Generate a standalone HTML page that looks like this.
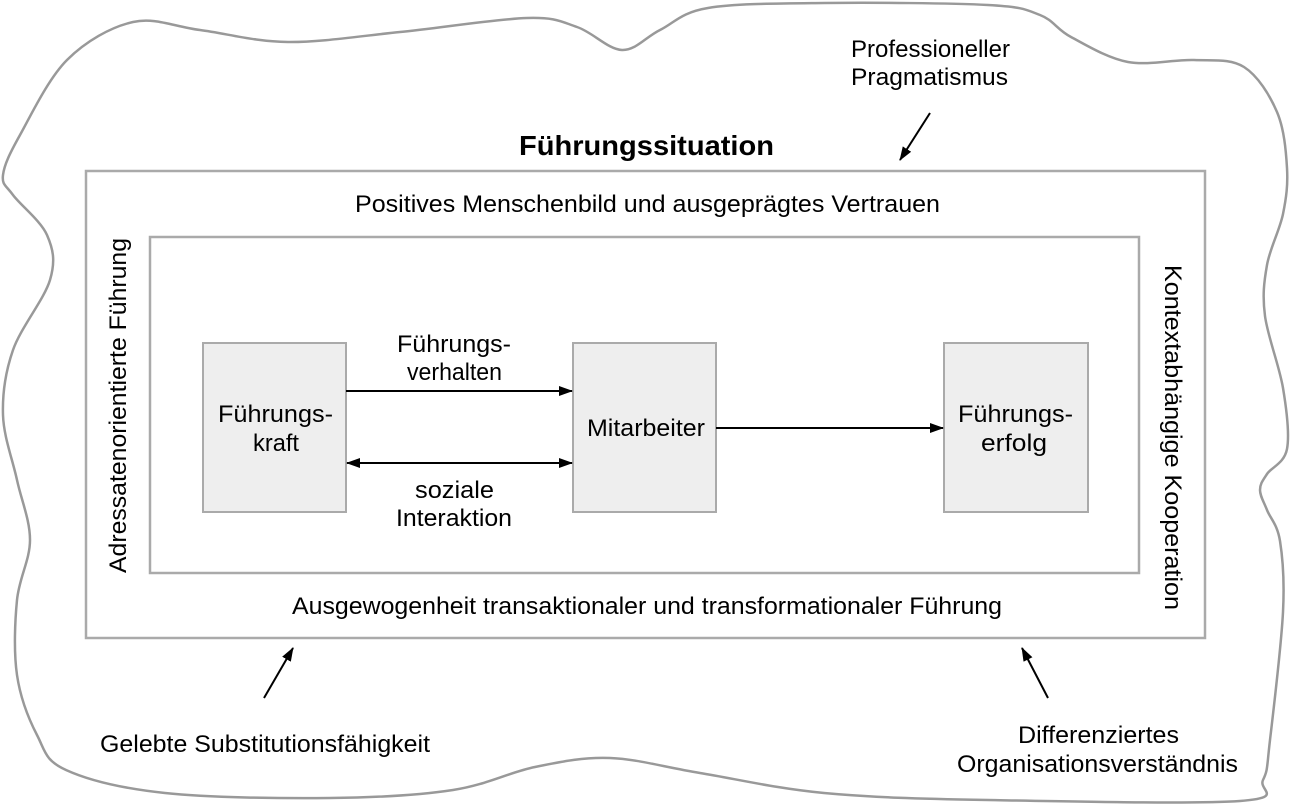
<!DOCTYPE html>
<html><head><meta charset="utf-8"><style>
html,body{margin:0;padding:0;background:#fff;}
svg{display:block;font-family:"Liberation Sans",Arial,sans-serif;}
</style></head><body>
<svg width="1292" height="808" viewBox="0 0 1292 808" xmlns="http://www.w3.org/2000/svg">
<defs>
<marker id="b" viewBox="0 0 14 10" markerWidth="14" markerHeight="10" refX="13" refY="5" orient="auto-start-reverse" markerUnits="userSpaceOnUse"><path d="M0,0 L14,5 L0,10 Z" fill="#000"/></marker>
</defs>
<path id="cloud" d="M133,22 L200,30 L288,42 L400,32 L527,18 L577,27 L622,50 L660,30 L708,8 L824,3 L988,5 L1040,15 L1071,37 L1128,62 L1194,60 L1244,67 L1277,112 L1287,168 L1283,214 L1267,265 L1265,316 L1283,388 L1287,449 L1267,474 L1260,490 L1267,510 L1280,541 L1283,612 L1270,740 L1263,780 L1240,801 L988,800 L824,793 L700,773 L610,758 L535,767 L453,790 L330,798 L165,793 L66,770 L37,735 L17,675 L17,600 L30,540 L17,480 L3,415 L13,350 L50,280 L47,235 L13,195 L3,175 L20,135 L67,60 Z" fill="none" stroke="#999" stroke-width="2.5" stroke-linejoin="round"/>
<rect x="86" y="171" width="1119" height="467" fill="none" stroke="#aaa" stroke-width="2.5"/>
<rect x="150" y="237" width="989" height="336" fill="none" stroke="#aaa" stroke-width="2.5"/>
<rect x="203" y="343" width="143" height="169" fill="#eee" stroke="#aaa" stroke-width="2"/>
<rect x="573" y="343" width="143" height="169" fill="#eee" stroke="#aaa" stroke-width="2"/>
<rect x="944" y="343" width="144" height="169" fill="#eee" stroke="#aaa" stroke-width="2"/>
<g stroke="#000" stroke-width="2" fill="none">
<line x1="346" y1="391" x2="572" y2="391" marker-end="url(#b)"/>
<line x1="347" y1="463" x2="572" y2="463" marker-start="url(#b)" marker-end="url(#b)"/>
<line x1="716" y1="428" x2="943" y2="428" marker-end="url(#b)"/>
<line x1="930" y1="113" x2="900" y2="160" marker-end="url(#b)"/>
<line x1="264" y1="698" x2="293" y2="648" marker-end="url(#b)"/>
<line x1="1048" y1="698" x2="1022" y2="648" marker-end="url(#b)"/>
</g>
<g font-size="24" fill="#000">
<text x="519" y="155" font-size="28" font-weight="bold" textLength="255" lengthAdjust="spacingAndGlyphs">Führungssituation</text>
<text x="851" y="57" textLength="159" lengthAdjust="spacingAndGlyphs">Professioneller</text>
<text x="851" y="85" textLength="157" lengthAdjust="spacingAndGlyphs">Pragmatismus</text>
<text x="355" y="212" textLength="585" lengthAdjust="spacingAndGlyphs">Positives Menschenbild und ausgeprägtes Vertrauen</text>
<text x="292" y="614" textLength="710" lengthAdjust="spacingAndGlyphs">Ausgewogenheit transaktionaler und transformationaler Führung</text>
<text x="100" y="752" textLength="330" lengthAdjust="spacingAndGlyphs">Gelebte Substitutionsfähigkeit</text>
<text x="1018" y="743" textLength="161" lengthAdjust="spacingAndGlyphs">Differenziertes</text>
<text x="957" y="772" textLength="281" lengthAdjust="spacingAndGlyphs">Organisationsverständnis</text>
<text x="397" y="352" textLength="114" lengthAdjust="spacingAndGlyphs">Führungs-</text>
<text x="407" y="380" textLength="95" lengthAdjust="spacingAndGlyphs">verhalten</text>
<text x="415" y="498" textLength="79" lengthAdjust="spacingAndGlyphs">soziale</text>
<text x="396" y="526" textLength="116" lengthAdjust="spacingAndGlyphs">Interaktion</text>
<text x="218" y="422" textLength="115" lengthAdjust="spacingAndGlyphs">Führungs-</text>
<text x="253" y="451" textLength="46" lengthAdjust="spacingAndGlyphs">kraft</text>
<text x="587" y="436" textLength="118" lengthAdjust="spacingAndGlyphs">Mitarbeiter</text>
<text x="958" y="422" textLength="115" lengthAdjust="spacingAndGlyphs">Führungs-</text>
<text x="981" y="451" textLength="66" lengthAdjust="spacingAndGlyphs">erfolg</text>
<text transform="translate(126,573) rotate(-90)" textLength="335" lengthAdjust="spacingAndGlyphs">Adressatenorientierte Führung</text>
<text transform="translate(1165,265) rotate(90)" textLength="345" lengthAdjust="spacingAndGlyphs">Kontextabhängige Kooperation</text>
</g>
</svg>
<script>
(function(){
var p=document.getElementById('cloud');
var pts=p.getAttribute('d').replace(/[MLZ]/g,' ').trim().split(/\s+/).map(function(s){return s.split(',').map(Number);});
var n=pts.length,d='M'+pts[0][0]+','+pts[0][1];
for(var i=0;i<n;i++){
var p0=pts[(i-1+n)%n],p1=pts[i],p2=pts[(i+1)%n],p3=pts[(i+2)%n];
var c1=[p1[0]+(p2[0]-p0[0])/6,p1[1]+(p2[1]-p0[1])/6];
var c2=[p2[0]-(p3[0]-p1[0])/6,p2[1]-(p3[1]-p1[1])/6];
d+=' C'+c1[0].toFixed(1)+','+c1[1].toFixed(1)+' '+c2[0].toFixed(1)+','+c2[1].toFixed(1)+' '+p2[0]+','+p2[1];
}
p.setAttribute('d',d+' Z');
})();
</script>
</body></html>
